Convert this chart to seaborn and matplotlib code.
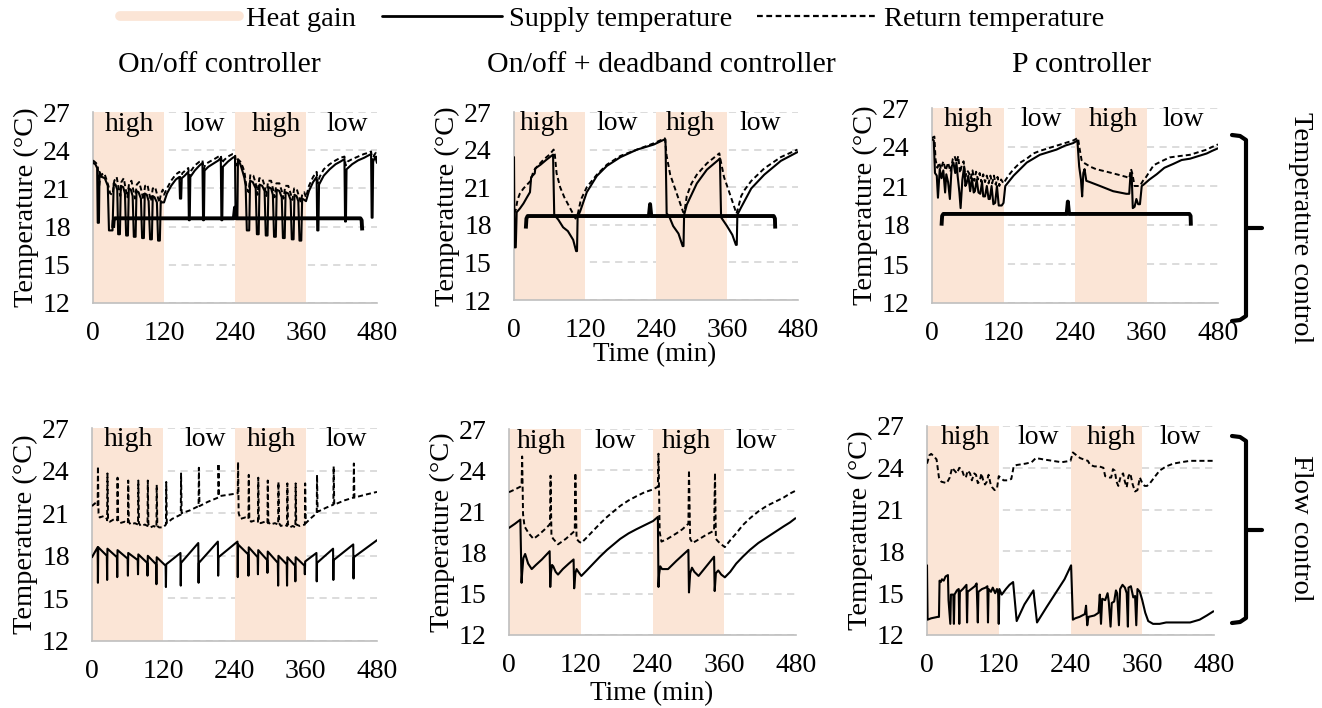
import numpy as np
import seaborn as sns
import matplotlib
matplotlib.use("Agg")
import matplotlib.pyplot as plt
from matplotlib.lines import Line2D

# ---- data: (time in min, temperature in C) ----
p1_sup_t = [0, 4, 7, 8, 10, 11, 15, 20, 25, 27, 33, 35, 38, 41, 42.5, 45.5, 47, 51, 54, 56, 59, 60.5, 64, 67, 69, 72, 73.5,
            77, 81, 83, 86, 87.5, 91, 94, 96.5, 99.5, 101, 104, 108, 110, 113, 114.5, 117, 120,
            125, 132, 140, 146, 147, 149, 150, 155, 161, 162, 163.5, 164.5, 172, 180, 185, 186, 187.5, 188.5, 195, 205,
            212, 216, 217, 218.5, 219.5, 228, 236, 240,
            241, 244, 245, 249, 253, 256, 258, 260, 264, 265.5, 270, 275, 277, 280, 281.5, 286, 290, 292, 295, 296.5,
            301, 304, 306, 309, 310.5, 315, 319, 321, 324, 325.5, 330, 334, 336, 339, 340.5, 344, 347, 349, 352, 353.5,
            357, 360,
            365, 372, 378, 379, 381, 382, 390, 400, 410, 418, 425, 426, 427.5, 428.5, 438, 448, 458, 466, 470, 471,
            472.5, 473.5, 477, 480]
p1_sup_v = [23.0, 22.9, 22.6, 18.3, 18.3, 22.3, 21.9, 21.8, 21.2, 17.7, 17.7, 21.4, 21.3, 20.9, 17.4, 17.4, 21.2, 21.1, 20.6,
            17.3, 17.3, 21.0, 20.9, 20.4, 17.2, 17.2, 20.8,
            20.7, 20.2, 17.1, 17.1, 20.6, 20.5, 20.0, 17.0, 17.0, 20.4, 20.3, 19.9, 16.9, 16.9, 20.0, 19.9, 19.9,
            20.6, 21.2, 21.7, 21.9, 20.2, 20.2, 21.8, 22.0, 22.3, 18.5, 18.5, 21.9, 22.4, 22.8, 23.0, 18.5, 18.5, 22.4,
            22.7, 23.0, 23.2, 23.4, 18.5, 18.5, 22.7, 23.1, 23.4, 23.5,
            18.6, 18.6, 23.2, 22.9, 22.3, 21.8, 21.2, 17.7, 17.7, 21.6, 21.5, 21.0, 17.4, 17.4, 21.3, 21.2, 20.8, 17.3,
            17.3, 21.1, 21.0, 20.5, 17.2, 17.2, 20.9, 20.8, 20.3, 17.1, 17.1, 20.7, 20.6, 20.1, 17.0, 17.0, 20.5, 20.4,
            20.0, 16.9, 16.9, 20.2, 20.1, 20.0,
            20.8, 21.5, 21.9, 17.7, 17.7, 21.3, 22.0, 22.5, 22.9, 23.1, 23.3, 18.4, 18.4, 22.5, 22.9, 23.2, 23.4, 23.6,
            23.7, 18.7, 18.7, 23.1, 23.5, 23.0]
p1_ret_t = [0, 5, 8, 10, 12, 15, 19, 22, 26, 29, 33, 36, 40, 43, 46, 48, 52, 55, 58, 61, 65, 68, 71, 74, 78, 82, 85, 88,
            92, 95, 98, 101, 105, 109, 112, 115, 118, 120,
            125, 132, 140, 146, 148, 151, 156, 161, 163, 166, 172, 180, 185, 187, 190, 197, 205, 212, 216, 218, 221,
            228, 236, 240,
            242, 245, 249, 253, 256, 259, 263, 266, 271, 275, 278, 281, 286, 290, 293, 296, 301, 304, 307, 310, 315,
            319, 322, 325, 330, 334, 337, 340, 344, 348, 351, 354, 357, 360,
            365, 372, 378, 380, 383, 390, 400, 410, 418, 425, 427, 430, 438, 448, 458, 466, 470, 472, 475, 478, 480]
p1_ret_v = [23.2, 23.0, 22.8, 21.0, 21.8, 22.1, 22.2, 21.8, 21.2, 20.6, 20.5, 21.6, 21.9, 21.1, 20.4, 21.5, 21.8, 21.0,
            20.3, 21.4, 21.6, 20.9, 20.2, 21.3, 21.5, 20.8, 20.1, 21.2, 21.3, 20.6, 20.0, 21.0, 21.1, 20.4, 19.9, 20.6,
            20.9, 20.5,
            21.0, 21.6, 22.1, 22.3, 21.7, 22.2, 22.4, 22.6, 21.9, 22.4, 22.8, 23.1, 23.2, 22.5, 22.9, 23.1, 23.3, 23.5,
            23.6, 23.0, 23.2, 23.5, 23.7, 23.7,
            22.8, 23.3, 23.1, 22.7, 22.3, 21.2, 20.7, 22.1, 22.0, 21.4, 20.5, 21.8, 21.8, 21.2, 20.4, 21.6, 21.6, 21.0,
            20.3, 21.4, 21.4, 20.8, 20.2, 21.2, 21.2, 20.6, 20.1, 21.0, 21.0, 20.4, 19.9, 20.6, 20.7, 20.3,
            21.2, 21.9, 22.3, 21.4, 21.9, 22.5, 22.9, 23.2, 23.4, 23.5, 22.8, 23.1, 23.3, 23.5, 23.7, 23.8, 23.9, 23.1,
            23.6, 23.8, 23.3]

p2_sup_t = [0, 1, 3, 4.5, 10, 16, 22, 27, 29, 35, 36, 45, 55, 66, 68, 75, 83, 91, 100, 105, 106.5, 107.5, 112, 123, 140,
            157, 180, 208, 236, 254, 256, 258, 262, 269, 278, 285, 286.5, 287.5, 292, 309, 326, 346, 348, 350, 360,
            369, 375, 376.5, 377.5, 384, 401, 423, 451, 479]
p2_sup_v = [23.4, 16.2, 16.2, 19.0, 19.3, 19.7, 20.2, 20.6, 21.8, 22.1, 22.5, 22.8, 23.2, 23.6, 18.8, 18.4, 17.8, 17.5,
            16.8, 15.9, 15.9, 18.6, 19.1, 20.6, 21.9, 22.7, 23.4, 24.0, 24.4, 24.8, 24.8, 18.9, 18.7, 17.9, 17.3, 16.3,
            16.3, 18.8, 19.6, 21.3, 22.4, 23.2, 23.3, 18.6, 17.9, 17.2, 16.4, 16.4, 18.8, 19.4, 20.9, 22.0, 23.1, 23.8]
p2_ret_t = [0, 3, 6, 10, 16, 22, 28, 33, 40, 50, 60, 67, 69, 72, 78, 85, 94, 104, 108, 113, 118, 123, 140, 157, 180, 208,
            236, 255, 258, 264, 275, 286, 288, 292, 300, 309, 326, 347, 349, 355, 366, 376, 378, 384, 390, 401, 423,
            451, 479]
p2_ret_v = [18.9, 19.2, 20.0, 20.5, 20.9, 21.2, 21.5, 22.3, 22.7, 23.2, 23.6, 24.0, 23.6, 22.1, 21.0, 20.2, 19.4, 18.5,
            18.9, 20.0, 20.5, 21.0, 22.0, 22.8, 23.5, 24.0, 24.5, 24.9, 23.5, 22.0, 20.5, 19.0, 19.0, 20.3, 21.3, 22.0,
            22.9, 23.7, 23.2, 21.8, 20.3, 18.9, 19.2, 20.3, 20.8, 21.5, 22.5, 23.4, 24.0]

p3_sup_t = [0, 3, 5, 8, 10, 13, 16, 19, 22, 24, 27, 30, 33, 36, 39, 41, 43, 46, 48, 51, 54, 56, 58, 61, 64, 67, 70, 72,
            75, 78, 81, 84, 86, 89, 92, 95, 97, 100, 103, 106, 109, 112, 117, 120, 123,
            130, 137, 148, 159, 170, 181, 195, 209, 223, 237, 244,
            247, 250, 252, 254, 256, 259, 265, 282, 304, 326, 331, 333, 335, 337, 340, 343, 346, 349, 352, 355,
            365, 377, 390, 405, 419, 433, 447, 461, 470, 480]
p3_sup_v = [24.6, 24.5, 22.0, 21.8, 20.1, 22.3, 21.6, 22.2, 20.5, 21.9, 21.3, 20.0, 22.5, 22.8, 22.0, 22.8, 21.8, 20.5,
            19.3, 21.5, 22.5, 21.0, 21.2, 21.8, 20.6, 21.6, 20.5, 20.6, 21.5, 20.5, 20.4, 21.3, 20.2, 20.2, 21.0, 20.0,
            20.0, 21.0, 19.6, 19.7, 21.0, 19.5, 19.5, 19.7, 21.0,
            21.4, 21.8, 22.3, 22.8, 23.1, 23.4, 23.6, 23.8, 24.1, 24.3, 24.5,
            22.5, 21.5, 20.2, 22.0, 22.3, 21.4, 21.3, 21.0, 20.6, 20.4, 20.4, 21.8, 22.0, 19.3, 19.4, 20.0, 19.6, 19.6,
            21.0, 21.1,
            21.5, 21.9, 22.4, 22.7, 23.0, 23.1, 23.3, 23.5, 23.7, 23.9]
p3_ret_t = [0, 4, 6, 9, 12, 15, 19, 23, 27, 31, 35, 38, 41, 44, 47, 50, 53, 56, 59, 62, 65, 68, 71, 74, 77, 80, 83, 86,
            89, 92, 95, 98, 101, 104, 107, 110, 113, 116, 120, 124,
            130, 137, 148, 159, 170, 181, 195, 209, 223, 237, 245,
            248, 251, 254, 258, 265, 275, 293, 310, 326, 331, 334, 336, 340, 349, 354, 358,
            365, 372, 385, 399, 415, 433, 447, 461, 470, 480]
p3_ret_v = [24.7, 24.8, 23.0, 22.4, 22.8, 22.3, 22.9, 22.2, 22.8, 22.1, 23.1, 23.3, 22.8, 23.3, 22.0, 22.6, 22.9, 21.7,
            22.2, 22.0, 21.6, 22.2, 21.4, 22.1, 21.5, 22.0, 21.3, 21.9, 21.3, 21.8, 21.2, 21.8, 21.2, 21.8, 21.1, 21.7,
            21.0, 21.5, 21.2, 21.5,
            21.9, 22.3, 22.8, 23.1, 23.5, 23.7, 23.9, 24.1, 24.3, 24.5, 24.7,
            23.8, 23.0, 22.8, 22.7, 22.5, 22.3, 22.1, 21.9, 21.7, 21.6, 22.3, 22.0, 21.0, 21.0, 21.4, 21.6,
            22.1, 22.6, 22.9, 23.2, 23.3, 23.4, 23.6, 23.8, 24.0, 24.2]

p4_sup_t = [0, 4, 9.5, 10, 10.5, 25, 25.5, 26, 42, 42.5, 43, 60, 60.5, 61, 77, 77.5, 78, 93, 93.5, 94, 108, 108.5, 109,
            124, 124.5, 125, 149, 149.5, 150, 179, 179.5, 180, 212, 212.5, 213, 245, 245.5, 246, 263, 263.5, 264,
            279, 279.5, 280, 295, 295.5, 296, 313, 313.5, 314, 328, 328.5, 329, 342, 342.5, 343, 358, 358.5, 359,
            378, 378.5, 379, 406, 406.5, 407, 440, 440.5, 441, 480]
p4_sup_v = [17.9, 18.2, 18.6, 16.1, 18.6, 18.0, 16.3, 18.5, 17.9, 16.5, 18.4, 17.8, 16.6, 18.2, 17.7, 16.7, 18.1, 17.5,
            16.6, 18.0, 17.4, 16.0, 17.9, 17.3, 15.8, 17.4, 18.2, 15.9, 17.5, 18.9, 16.1, 17.5, 19.0, 16.6, 17.9,
            19.0, 16.5, 18.8, 18.1, 16.6, 18.6, 17.9, 16.7, 18.4, 17.7, 16.8, 18.3, 17.5, 15.9, 18.0, 17.4, 15.9,
            17.9, 17.3, 16.2, 17.9, 17.3, 16.7, 17.6, 18.2, 16.2, 17.5, 18.5, 16.3, 17.7, 18.8, 16.4, 17.9, 19.1]
p4_ret_t = [0, 5, 9.5, 10, 11, 13, 20, 25, 25.5, 26, 27, 30, 38, 42.5, 43, 44, 47, 55, 60.5, 61, 62, 65, 72, 77.5, 78,
            79, 82, 89, 93.5, 94, 95, 98, 104, 108.5, 109, 110, 113, 120, 124.5, 125, 126, 135, 149.5, 150, 151,
            165, 179.5, 180, 181, 195, 212.5, 213, 214, 230, 245.5, 246, 247, 250, 258, 263.5, 264, 265, 268, 275,
            279.5, 280, 281, 284, 291, 295.5, 296, 297, 300, 308, 313.5, 314, 315, 318, 324, 328.5, 329, 330, 333,
            338, 342.5, 343, 344, 350, 358.5, 359, 360, 370, 378.5, 379, 380, 395, 406.5, 407, 408, 425, 440.5,
            441, 442, 460, 480]
p4_ret_v = [21.5, 21.7, 21.5, 24.3, 21.0, 20.7, 20.8, 20.6, 20.5, 23.8, 20.6, 20.4, 20.6, 20.5, 23.5, 20.5, 20.3, 20.4,
            20.3, 23.3, 20.4, 20.2, 20.3, 20.2, 23.3, 20.3, 20.1, 20.2, 20.1, 23.3, 20.2, 20.0, 20.1, 20.0, 23.0,
            20.1, 20.0, 20.0, 20.2, 23.2, 20.3, 20.6, 20.9, 23.8, 21.0, 21.2, 21.5, 24.2, 21.5, 21.8, 22.1, 24.5,
            22.2, 22.3, 22.4, 24.6, 21.0, 20.6, 20.7, 20.6, 23.7, 20.6, 20.4, 20.5, 20.4, 23.5, 20.5, 20.3, 20.4,
            20.3, 23.3, 20.4, 20.2, 20.3, 20.2, 23.2, 20.3, 20.1, 20.2, 20.1, 23.1, 20.2, 20.0, 20.1, 20.0, 23.1,
            20.2, 20.1, 20.2, 23.1, 20.3, 20.7, 21.0, 23.7, 21.1, 21.4, 21.6, 24.3, 21.6, 21.9, 22.1, 24.5, 22.1,
            22.3, 22.5]

p5_sup_t = [0, 10, 19, 21, 22, 24, 27, 32, 38, 45, 55, 68, 69, 70, 72, 74, 78, 82, 90, 100, 108, 109, 111, 113, 116,
            121, 130, 141, 152, 164, 175, 186, 200, 213, 227, 241, 249, 250, 251, 253, 256, 266, 280, 290, 300, 301,
            303, 306, 310, 317, 330, 343, 344, 346, 350, 355, 361, 370, 380, 391, 403, 417, 431, 445, 459, 470, 479]
p5_sup_v = [19.8, 20.1, 20.4, 15.8, 16.5, 17.6, 17.9, 17.2, 16.8, 17.1, 17.5, 18.1, 15.5, 16.5, 17.1, 17.0, 16.6, 16.4,
            16.8, 17.2, 17.5, 15.4, 16.5, 16.8, 16.6, 16.3, 16.7, 17.2, 17.7, 18.2, 18.6, 19.0, 19.4, 19.7, 20.0,
            20.3, 20.6, 15.5, 16.4, 17.0, 16.8, 16.8, 17.4, 17.8, 18.2, 15.1, 16.5, 16.9, 16.6, 16.3, 17.0, 17.7,
            15.2, 16.5, 16.7, 16.4, 16.2, 16.6, 17.2, 17.7, 18.2, 18.7, 19.1, 19.5, 19.9, 20.2, 20.5]
p5_ret_t = [0, 10, 19, 21, 22, 23.5, 26, 33, 41, 50, 60, 67, 68.5, 69.5, 71, 74, 82, 95, 108, 110, 111, 113, 117, 121,
            130, 141, 152, 164, 175, 186, 200, 213, 227, 241, 249, 250, 252, 255, 265, 280, 290, 300, 301, 303, 307,
            315, 330, 343, 344.5, 346, 350, 355, 361, 370, 380, 391, 403, 417, 431, 445, 459, 470, 479]
p5_ret_v = [22.4, 22.6, 22.8, 22.9, 25.0, 20.8, 19.9, 19.4, 19.0, 19.3, 19.7, 20.0, 20.1, 23.6, 19.2, 19.0, 18.6, 19.0,
            19.5, 19.6, 23.8, 19.0, 18.8, 18.7, 19.1, 19.6, 20.1, 20.6, 21.0, 21.4, 21.8, 22.1, 22.4, 22.6, 22.8,
            25.2, 19.5, 18.8, 19.0, 19.4, 19.7, 20.1, 24.0, 19.0, 18.7, 18.9, 19.3, 19.6, 23.8, 19.0, 18.8, 18.6,
            18.4, 18.9, 19.4, 20.0, 20.5, 21.0, 21.4, 21.7, 22.0, 22.3, 22.5]

p6_sup_t = [0, 1, 7, 18, 20, 21, 23, 25, 28, 31, 35, 36, 39, 40, 44, 45, 46, 50, 53, 54, 55, 60, 66, 67, 68, 74, 80,
            83, 85, 86, 92, 98, 101, 102, 103, 107, 110, 114, 117, 119, 120, 121, 125, 132, 138, 144, 150, 163, 178,
            184, 200, 215, 230, 241, 244, 248, 255, 264, 266, 268, 270, 280, 287, 289, 291, 293, 298, 302, 304, 307,
            309, 313, 316, 318, 321, 323, 327, 331, 334, 336, 337, 341, 345, 348, 350, 352, 356, 360, 365, 370, 378,
            389, 400, 412, 425, 440, 456, 468, 479]
p6_sup_v = [17.0, 13.1, 13.2, 13.3, 13.3, 15.9, 15.8, 16.0, 15.9, 16.2, 16.3, 14.5, 12.8, 14.9, 14.9, 12.8, 14.9, 15.2,
            15.3, 12.8, 15.1, 15.3, 15.6, 12.9, 15.1, 15.3, 15.5, 15.7, 12.9, 15.1, 15.3, 15.4, 15.5, 12.9, 15.3,
            15.1, 15.4, 15.0, 15.3, 15.0, 12.8, 15.3, 14.9, 15.3, 15.6, 15.8, 13.0, 14.2, 15.2, 12.9, 14.0, 15.0,
            16.0, 17.0, 13.1, 13.2, 13.3, 13.5, 14.1, 12.7, 13.3, 13.4, 13.6, 14.9, 12.8, 14.6, 14.5, 15.0, 14.4,
            12.6, 14.3, 14.4, 15.2, 15.0, 12.7, 15.3, 15.6, 15.4, 15.0, 12.6, 15.4, 15.5, 14.7, 14.8, 12.7, 15.3,
            15.1, 14.5, 13.6, 13.0, 12.8, 12.8, 12.9, 12.9, 12.9, 12.9, 13.1, 13.4, 13.7]
p6_ret_t = [0, 4, 7, 12, 16, 20, 24, 33, 38, 42, 46, 50, 54, 58, 62, 65, 68, 72, 75, 79, 82, 85, 88, 91, 94, 97, 100,
            103, 106, 109, 113, 117, 120, 123, 128, 135, 141, 145, 150, 165, 175, 182, 195, 210, 225, 240, 244, 250,
            256, 262, 269, 273, 280, 288, 295, 298, 304, 308, 311, 314, 317, 320, 324, 328, 331, 334, 337, 340, 344,
            348, 352, 356, 360, 364, 368, 373, 380, 389, 400, 412, 425, 440, 460, 479]
p6_ret_v = [24.3, 24.9, 25.0, 24.8, 24.6, 23.3, 23.0, 22.9, 23.3, 24.0, 23.8, 23.6, 24.0, 23.9, 23.4, 23.3, 23.8, 23.6,
            23.1, 23.6, 23.5, 22.9, 23.0, 23.6, 23.1, 22.8, 23.0, 23.5, 22.9, 22.6, 22.4, 22.5, 23.4, 23.3, 23.1,
            23.1, 23.2, 24.1, 24.2, 24.3, 24.4, 24.7, 24.6, 24.5, 24.4, 24.5, 25.1, 24.9, 24.7, 24.6, 24.5, 24.2,
            24.1, 24.1, 24.0, 23.4, 23.3, 23.3, 23.9, 23.8, 23.0, 22.7, 23.4, 23.6, 23.0, 22.6, 23.4, 23.6, 22.8,
            22.3, 22.4, 23.3, 22.9, 22.7, 22.7, 22.9, 23.3, 23.8, 24.1, 24.3, 24.4, 24.5, 24.5, 24.5]

# braces drawn inside the top row panels (time, temperature)
p1_brace_t = [34, 35, 37, 238, 240, 242, 452, 454, 455]
p1_brace_v = [17.9, 18.5, 18.65, 18.65, 19.5, 18.65, 18.65, 18.5, 17.7]
p2_brace_t = [20, 21, 23, 228, 230, 232, 439, 441, 441.5]
p2_brace_v = [17.7, 18.5, 18.7, 18.7, 19.65, 18.7, 18.7, 18.5, 17.7]
p3_brace_t = [16, 17, 19, 226, 228, 230, 432, 434, 434.5]
p3_brace_v = [17.95, 18.7, 18.85, 18.85, 19.8, 18.85, 18.85, 18.7, 17.95]

heat_spans = [(0, 120), (240, 360)]
gain_labels = ["high", "low", "high", "low"]
titles = ["On/off controller", "On/off + deadband controller", "P controller"]

panels = [
    dict(sup=(p1_sup_t, p1_sup_v), ret=(p1_ret_t, p1_ret_v), brace=(p1_brace_t, p1_brace_v),
         box=(93, 112, 377, 303), lab_t=[62, 188, 310, 430], lab_y=26.0),
    dict(sup=(p2_sup_t, p2_sup_v), ret=(p2_ret_t, p2_ret_v), brace=(p2_brace_t, p2_brace_v),
         box=(514, 112, 798, 300), lab_t=[52, 174, 298, 416], lab_y=26.1),
    dict(sup=(p3_sup_t, p3_sup_v), ret=(p3_ret_t, p3_ret_v), brace=(p3_brace_t, p3_brace_v),
         box=(932, 108, 1218, 303), lab_t=[61, 183, 304, 421], lab_y=26.1),
    dict(sup=(p4_sup_t, p4_sup_v), ret=(p4_ret_t, p4_ret_v), brace=None,
         box=(92, 428, 377, 641), lab_t=[61, 190, 302, 428], lab_y=26.2),
    dict(sup=(p5_sup_t, p5_sup_v), ret=(p5_ret_t, p5_ret_v), brace=None,
         box=(509, 429, 796, 635), lab_t=[55, 177, 297, 413], lab_y=26.1),
    dict(sup=(p6_sup_t, p6_sup_v), ret=(p6_ret_t, p6_ret_v), brace=None,
         box=(927, 426, 1214, 635), lab_t=[65, 186, 309, 424], lab_y=26.2),
]

W, H = 1322, 708
PEACH = "#FBE5D6"
GRID = "#d9d9d9"
SPINE = "#bfbfbf"

sns.set_theme(style="white")
plt.rcParams["font.family"] = ["Liberation Serif", "DejaVu Serif"]
plt.rcParams["text.color"] = "black"
plt.rcParams["axes.labelcolor"] = "black"

fig = plt.figure(figsize=(W / 100, H / 100), dpi=100)


def fig_box(l, t, r, b):
    return [l / W, 1 - b / H, (r - l) / W, (b - t) / H]


for p in panels:
    ax = fig.add_axes(fig_box(*p["box"]))
    ax.set_axisbelow(True)
    for a, b in heat_spans:
        ax.axvspan(a, b, color=PEACH, lw=0, zorder=1)
    sns.lineplot(x=p["ret"][0], y=p["ret"][1], ax=ax, color="black", lw=1.4,
                 linestyle=(0, (2.6, 1.6)), sort=False, estimator=None, zorder=3)
    sns.lineplot(x=p["sup"][0], y=p["sup"][1], ax=ax, color="black", lw=1.5,
                 sort=False, estimator=None, zorder=4)
    if p["brace"] is not None:
        ax.plot(p["brace"][0], p["brace"][1], color="black", lw=2.8,
                solid_joinstyle="round", solid_capstyle="butt", zorder=5)
    for tx, lab in zip(p["lab_t"], gain_labels):
        ax.text(tx, p["lab_y"], lab, ha="center", va="center", fontsize=20, zorder=6)
    ax.set_xlim(0, 480)
    ax.set_ylim(12, 27)
    ax.set_xticks(np.arange(0, 481, 120))
    ax.set_yticks(np.arange(12, 28, 3))
    ax.yaxis.grid(True, color=GRID, ls=(0, (4, 3)), lw=1.3)
    ax.xaxis.grid(False)
    for s in ["top", "right"]:
        ax.spines[s].set_visible(False)
    for s in ["left", "bottom"]:
        ax.spines[s].set_color(SPINE)
        ax.spines[s].set_linewidth(1.2)
    ax.tick_params(axis="both", length=0, labelsize=20, colors="black")
    ax.tick_params(axis="x", pad=13)
    ax.tick_params(axis="y", pad=16)
    ax.set_xlabel("")
    ax.set_ylabel("Temperature (\u00b0C)", fontsize=20.5, labelpad=3)

# column titles
for cx, title in zip([219, 661, 1082], titles):
    fig.text(cx / W, 1 - 65 / H, title, ha="center", va="center", fontsize=21.5)

# time labels under the middle column
fig.text(655 / W, 1 - 355 / H, "Time (min)", ha="center", va="center", fontsize=19.5)
fig.text(652 / W, 1 - 694 / H, "Time (min)", ha="center", va="center", fontsize=19.5)


# right-hand brackets grouping the rows
def bracket(top, bottom, mid):
    xs = [1232, 1240, 1246, 1246, 1246, 1240, 1232]
    ys = [top - 1, top, top + 4, mid, bottom - 4, bottom, bottom + 1]
    fig.add_artist(Line2D([x / W for x in xs], [1 - y / H for y in ys], color="black", lw=3,
                          transform=fig.transFigure, solid_joinstyle="round"))
    fig.add_artist(Line2D([1246 / W, 1262 / W], [1 - mid / H, 1 - mid / H], color="black", lw=3,
                          transform=fig.transFigure))


bracket(136, 320, 228)
bracket(437, 622, 530)
fig.text(1300 / W, 1 - 228 / H, "Temperature control", rotation=270, ha="center", va="center", fontsize=20.5)
fig.text(1300 / W, 1 - 528 / H, "Flow control", rotation=270, ha="center", va="center", fontsize=20.5)

# legend
handles = [Line2D([], [], color=PEACH, lw=7),
           Line2D([], [], color="black", lw=2),
           Line2D([], [], color="black", lw=1.6, ls=(0, (2.6, 1.6)))]
fig.legend(handles, ["Heat gain", "Supply temperature", "Return temperature"], loc="upper center",
           bbox_to_anchor=(0.463, 1.008), ncol=3, frameon=False, fontsize=20.5, handlelength=4.2,
           handletextpad=0.25, columnspacing=0.9, borderaxespad=0)

fig.savefig("out.png", dpi=100)
